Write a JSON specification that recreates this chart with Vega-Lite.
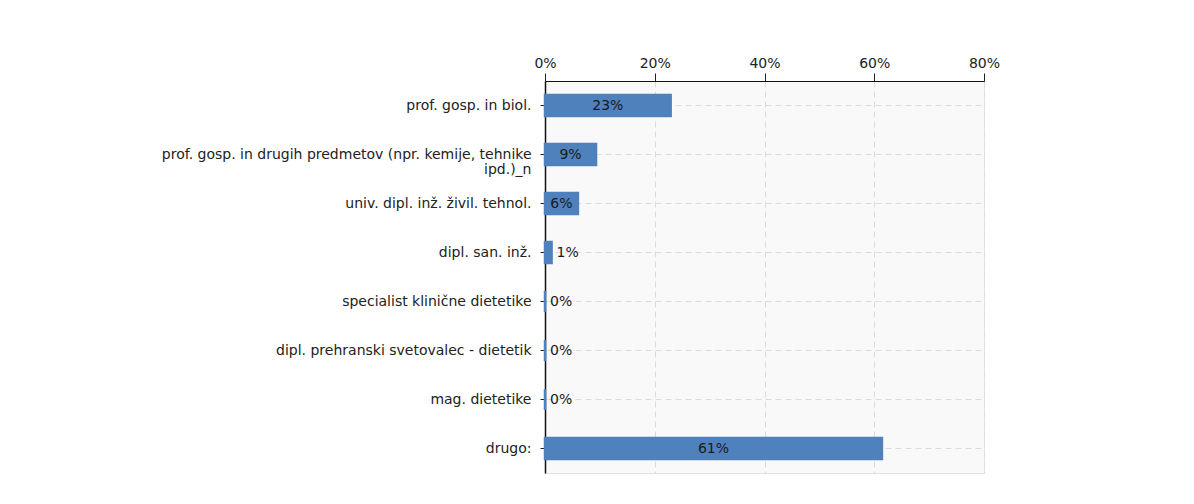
{
  "$schema": "https://vega.github.io/schema/vega-lite/v6.json",
  "width": 439,
  "height": 392,
  "autosize": "none",
  "padding": {"left": 545, "top": 81, "right": 210, "bottom": 31},
  "background": "white",
  "config": {
    "font": "DejaVu Sans",
    "view": {"fill": "#f9f9f9", "stroke": "#e2e2e2"}
  },
  "data": {
    "values": [
      {"kategorija": "prof. gosp. in biol.", "delez": 0.229},
      {"kategorija": "prof. gosp. in drugih predmetov (npr. kemije, tehnike\nipd.)_n", "delez": 0.093},
      {"kategorija": "univ. dipl. inž. živil. tehnol.", "delez": 0.06},
      {"kategorija": "dipl. san. inž.", "delez": 0.012},
      {"kategorija": "specialist klinične dietetike", "delez": 0.0},
      {"kategorija": "dipl. prehranski svetovalec - dietetik", "delez": 0.0},
      {"kategorija": "mag. dietetike", "delez": 0.0},
      {"kategorija": "drugo:", "delez": 0.614}
    ]
  },
  "encoding": {
    "y": {
      "field": "kategorija",
      "type": "nominal",
      "sort": null,
      "title": null,
      "scale": {"paddingInner": 0.57, "paddingOuter": 0.285},
      "axis": {
        "labelExpr": "split(datum.value, '\\n')",
        "labelFontSize": 14,
        "labelColor": "#222",
        "labelPadding": 9,
        "labelLineHeight": 15,
        "labelLimit": 600,
        "tickSize": 5,
        "tickColor": "#222",
        "domainColor": "#111",
        "domainWidth": 1.5,
        "grid": true,
        "bandPosition": 0.5,
        "gridDash": [6, 4],
        "gridColor": "#dcdcdc"
      }
    }
  },
  "layer": [
    {
      "mark": {"type": "bar", "color": "#4f81bd", "stroke": "#4f81bd", "strokeWidth": 2.5},
      "encoding": {
        "x": {
          "field": "delez",
          "type": "quantitative",
          "scale": {"domain": [0, 0.8], "nice": false},
          "axis": {
            "orient": "top",
            "title": null,
            "format": ".0%",
            "values": [0, 0.2, 0.4, 0.6, 0.8],
            "labelFontSize": 14,
            "labelColor": "#222",
            "labelPadding": 3,
            "tickSize": 8,
            "tickColor": "#222",
            "domainColor": "#111",
            "grid": true,
            "gridDash": [6, 4],
            "gridColor": "#dcdcdc",
            "labelFlush": false
          }
        }
      }
    },
    {
      "transform": [{"filter": "datum.delez >= 0.05"}],
      "mark": {"type": "text", "fontSize": 14, "color": "#1a1a1a", "align": "center", "baseline": "middle"},
      "encoding": {
        "x": {"field": "delez", "type": "quantitative", "scale": {"domain": [0, 1.6], "nice": false}, "axis": null},
        "text": {"field": "delez", "type": "quantitative", "format": ".0%"}
      }
    },
    {
      "transform": [{"filter": "datum.delez < 0.05"}],
      "mark": {"type": "text", "fontSize": 14, "color": "#1a1a1a", "align": "left", "baseline": "middle", "dx": 5},
      "encoding": {
        "x": {"field": "delez", "type": "quantitative", "scale": {"domain": [0, 0.8], "nice": false}, "axis": null},
        "text": {"field": "delez", "type": "quantitative", "format": ".0%"}
      }
    }
  ],
  "resolve": {"scale": {"x": "independent"}}
}
